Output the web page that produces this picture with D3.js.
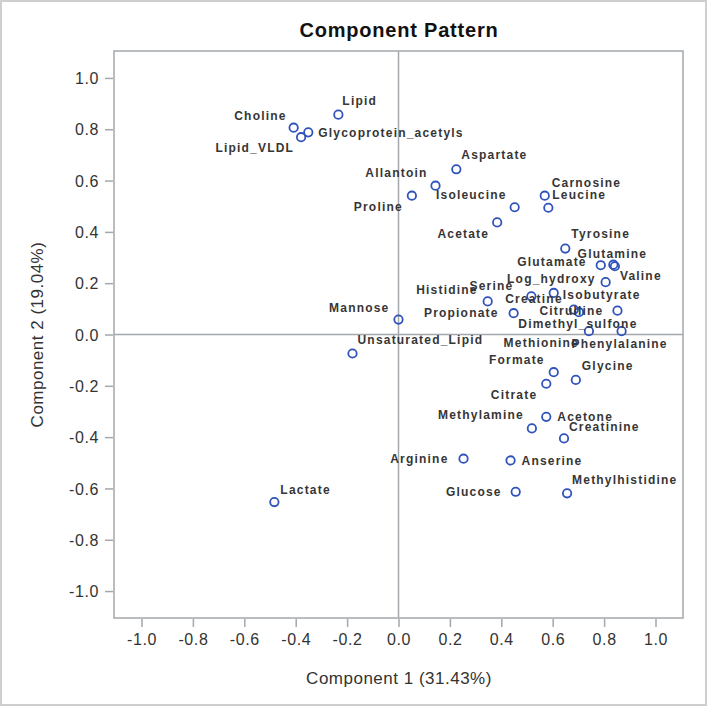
<!DOCTYPE html>
<html lang="en">
<head>
<meta charset="UTF-8">
<title>Component Pattern</title>
<script src="https://d3js.org/d3.v7.min.js"></script>
<style>
    body { margin: 0; background: #fff; }
    svg { display: block; }
    .tick text { font-family: "Liberation Sans", Arial, sans-serif; font-size: 16px; fill: #333; letter-spacing: 0.6px; }
    .tick line { stroke: #a4a8ac; stroke-width: 1.5; }
    .lbl { font-family: "Liberation Sans", Arial, sans-serif; font-size: 12px; font-weight: bold; fill: #363636; letter-spacing: 1.2px; }
</style>
</head>
<body>
<svg width="708" height="707"></svg>
<script>
// step 1 : data (component loadings)
let names = ["Lipid","Choline","Glycoprotein_acetyls","Lipid_VLDL","Aspartate","Allantoin","Proline",
    "Isoleucine","Acetate","Carnosine","Leucine","Tyrosine","Glutamate","Glutamine","Valine","Log_hydroxy",
    "Histidine","Serine","Isobutyrate","Propionate","Creatine","Dimethyl_sulfone","Citrulline","Methionine",
    "Phenylalanine","Mannose","Unsaturated_Lipid","Formate","Citrate","Glycine","Acetone","Methylamine",
    "Creatinine","Arginine","Anserine","Glucose","Methylhistidine","Lactate"];
let comp1 = [-0.234,-0.408,-0.351,-0.379,0.225,0.144,0.052,
    0.452,0.384,0.569,0.583,0.649,0.787,0.836,0.842,0.806,
    0.347,0.517,0.604,0.448,0.682,0.702,0.852,0.741,
    0.868,0.000,-0.179,0.604,0.575,0.690,0.575,0.519,
    0.644,0.253,0.436,0.456,0.656,-0.483];
let comp2 = [0.857,0.806,0.788,0.769,0.644,0.580,0.541,
    0.496,0.437,0.541,0.494,0.335,0.270,0.272,0.266,0.204,
    0.129,0.149,0.162,0.083,0.097,0.087,0.093,0.013,
    0.013,0.058,-0.074,-0.147,-0.192,-0.177,-0.321,-0.366,
    -0.405,-0.484,-0.491,-0.613,-0.619,-0.653];
let tickValues = [-1.0,-0.8,-0.6,-0.4,-0.2,0.0,0.2,0.4,0.6,0.8,1.0];
let title = "Component Pattern";
let xTitle = "Component 1 (31.43%)";
let yTitle = "Component 2 (19.04%)";

// label placement next to each marker: [anchor, dx, dy]
let labelPlace = {
    Lipid:["start",4,-14], Choline:["end",-7,-12], Glycoprotein_acetyls:["start",10,0],
    Lipid_VLDL:["end",-7,11], Aspartate:["start",5,-14], Allantoin:["end",-8,-13],
    Proline:["end",-9,11], Isoleucine:["end",-8,-12], Acetate:["end",-8,11],
    Carnosine:["start",7,-13], Leucine:["start",4,-13], Tyrosine:["start",6,-15],
    Glutamate:["end",-14,-3], Glutamine:["middle",-1,-11], Valine:["start",5,10],
    Log_hydroxy:["end",-10,-3], Histidine:["end",-10,-12], Serine:["end",-18,-10],
    Isobutyrate:["start",9,2], Propionate:["end",-15,0], Creatine:["end",-11,-11],
    Dimethyl_sulfone:["middle",-1,12], Citrulline:["end",-14,0], Methionine:["end",-10,12],
    Phenylalanine:["middle",-2,13], Mannose:["end",-9,-12], Unsaturated_Lipid:["start",5,-14],
    Formate:["end",-9,-12], Citrate:["end",-9,11], Glycine:["start",6,-14],
    Acetone:["start",11,0], Methylamine:["end",-8,-14], Creatinine:["start",5,-12],
    Arginine:["end",-15,0], Anserine:["start",11,0], Glucose:["end",-14,0],
    Methylhistidine:["start",5,-14], Lactate:["start",6,-12]
};

let data = names.map(function (n, i) { return {name: n, x: comp1[i], y: comp2[i]}; });

let svg = d3.select('svg');
let frame = {left: 114, right: 683, top: 51, bottom: 618};
let lineColor = "#a4a8ac";

// outer border of the picture
svg.append("rect").attr("x", 1).attr("y", 1).attr("width", 705).attr("height", 704)
    .attr("fill", "none").attr("stroke", "#cfcfcf").attr("stroke-width", 2);

// step 2 : scales
let xscale = d3.scaleLinear().domain([-1.107, 1.107]).range([frame.left, frame.right]);
let yscale = d3.scaleLinear().domain([-1.105, 1.105]).range([frame.bottom, frame.top]);

// reference lines at zero
svg.append("line").attr("x1", xscale(0)).attr("x2", xscale(0))
    .attr("y1", frame.top).attr("y2", frame.bottom)
    .attr("stroke", lineColor).attr("stroke-width", 1.5);
svg.append("line").attr("x1", frame.left).attr("x2", frame.right)
    .attr("y1", yscale(0)).attr("y2", yscale(0))
    .attr("stroke", lineColor).attr("stroke-width", 1.5);

// frame
svg.append("rect").attr("x", frame.left).attr("y", frame.top)
    .attr("width", frame.right - frame.left).attr("height", frame.bottom - frame.top)
    .attr("fill", "none").attr("stroke", lineColor).attr("stroke-width", 1.5);

// step 3 : axes (plain hyphen for negatives, as in the picture)
let fmt = function (d) { return d.toFixed(1); };
let xAxis = svg.append("g").attr("transform", "translate(0," + (frame.bottom + 1) + ")")
    .call(d3.axisBottom(xscale).tickValues(tickValues).tickSize(8).tickPadding(7).tickFormat(fmt));
let yAxis = svg.append("g").attr("transform", "translate(" + (frame.left - 1) + ",0)")
    .call(d3.axisLeft(yscale).tickValues(tickValues).tickSize(8).tickPadding(6).tickFormat(fmt));
xAxis.select(".domain").remove();
yAxis.select(".domain").remove();
yAxis.selectAll(".tick text").attr("dy", "0.35em");

// step 4 : markers and labels
svg.append("g").selectAll("circle").data(data).enter().append("circle")
    .attr("cx", function (d) { return xscale(d.x); })
    .attr("cy", function (d) { return yscale(d.y); })
    .attr("r", 4.2)
    .attr("fill", "none")
    .attr("stroke", "#2f52bb")
    .attr("stroke-width", 1.8);

svg.append("g").selectAll("text").data(data).enter().append("text")
    .attr("class", "lbl")
    .attr("x", function (d) { return xscale(d.x) + labelPlace[d.name][1]; })
    .attr("y", function (d) { return yscale(d.y) + labelPlace[d.name][2]; })
    .attr("dy", "0.35em")
    .attr("text-anchor", function (d) { return labelPlace[d.name][0]; })
    .text(function (d) { return d.name; });

// titles
svg.append("text").attr("x", 399).attr("y", 37)
    .attr("text-anchor", "middle")
    .style("font-family", "'Liberation Sans', Arial, sans-serif")
    .style("font-size", "20px").style("font-weight", "bold").style("fill", "#111")
    .style("letter-spacing", "0.8px")
    .text(title);
svg.append("text").attr("x", 399).attr("y", 684)
    .attr("text-anchor", "middle")
    .style("font-family", "'Liberation Sans', Arial, sans-serif")
    .style("font-size", "17px").style("fill", "#333").style("letter-spacing", "0.5px")
    .text(xTitle);
svg.append("text")
    .attr("transform", "translate(43," + yscale(0) + ") rotate(-90)")
    .attr("text-anchor", "middle")
    .style("font-family", "'Liberation Sans', Arial, sans-serif")
    .style("font-size", "17px").style("fill", "#333").style("letter-spacing", "0.5px")
    .text(yTitle);
</script>
</body>
</html>
